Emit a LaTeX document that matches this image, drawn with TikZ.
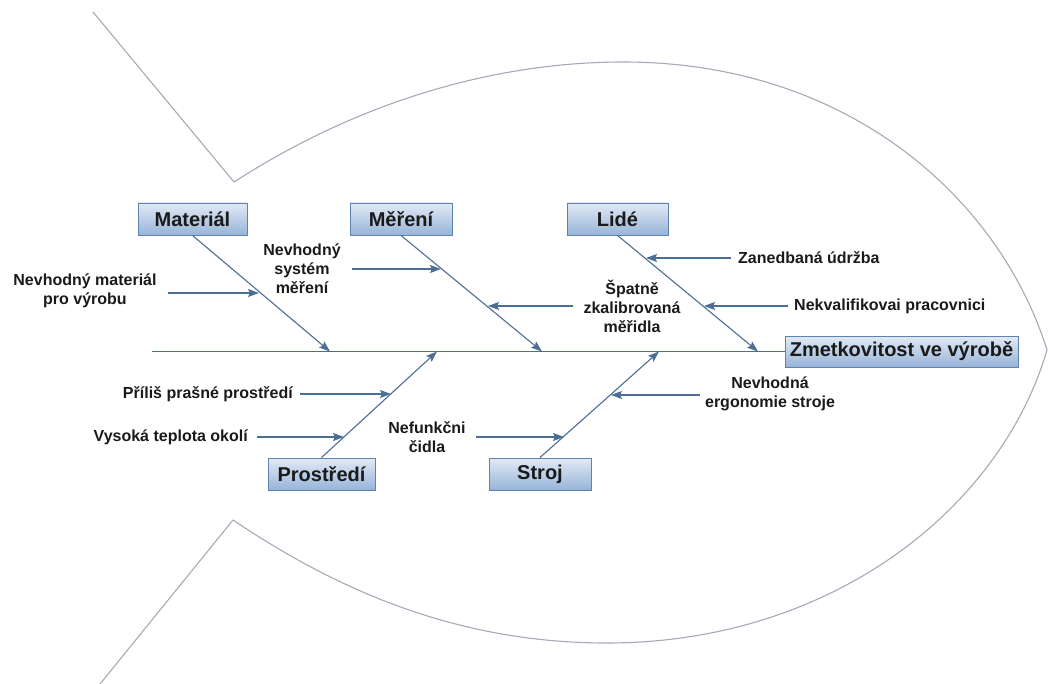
\documentclass[tikz,border=0pt]{standalone}
\usepackage{fontspec}
\setmainfont{Liberation Sans}
\usetikzlibrary{arrows.meta}
\definecolor{fishline}{HTML}{A3ABB6}
\definecolor{bone}{HTML}{4C6D96}
\definecolor{boxborder}{HTML}{5F82AE}
\definecolor{boxtop}{HTML}{E2EAF5}
\definecolor{boxbot}{HTML}{97B4D8}
\definecolor{txt}{HTML}{1A1A1A}
\tikzset{
  catbox/.style={draw=boxborder, line width=0.9pt, top color=boxtop, bottom color=boxbot,
    inner sep=0pt, minimum height=32pt, text=txt,
    font=\bfseries\fontsize{20}{22}\selectfont},
  causetext/.style={align=center, inner sep=0pt, text=txt,
    font=\bfseries\fontsize{16}{19}\selectfont},
  boneline/.style={draw=bone, line width=1.1pt, -{Stealth[length=11pt,width=8pt,inset=2pt]}},
  subarrow/.style={draw=bone, line width=1.1pt, -{Stealth[length=11pt,width=8pt,inset=2pt]}},
  spineline/.style={draw=bone, line width=1.1pt},
  outline/.style={draw=fishline, line width=1.1pt}
}
\begin{document}
\begin{tikzpicture}[x=1pt,y=-1pt]
\useasboundingbox (0,0) rectangle (1048,684);
% fish outline
\draw[outline] (93,12) -- (234,182)
  .. controls (380,88) and (520,62) .. (623,62)
  .. controls (850,62) and (1000,200) .. (1047,350)
  .. controls (1000,510) and (830,643) .. (607,643)
  .. controls (450,643) and (330,585) .. (233,520) -- (100,684);
% boxes
\node[catbox, minimum width=109pt] (mat) at (192.5,219) {Materiál};
\node[catbox, minimum width=102pt] (mer) at (401,219) {Měření};
\node[catbox, minimum width=101pt] (lid) at (617.5,219) {Lidé};
\node[catbox, minimum width=233pt, minimum height=31pt] (eff) at (901.5,351.5) {Zmetkovitost ve výrobě};
\node[catbox, minimum width=107pt] (pro) at (321.5,474) {Prostředí};
\node[catbox, minimum width=102pt] (str) at (540,474) {Stroj};
% spine
\coordinate (spL) at (152,351.5);
\draw[spineline] (spL) -- (eff.west);
% bone ends on spine
\coordinate (bm) at (330,351.5);
\coordinate (be) at (542,351.5);
\coordinate (bl) at (758,351.5);
\coordinate (bp) at (437,351.5);
\coordinate (bs) at (659,351.5);
\draw[boneline] (mat.south) -- (bm);
\draw[boneline] (mer.south) -- (be);
\draw[boneline] (lid.south) -- (bl);
\draw[boneline] (pro.north) -- (bp);
\draw[boneline] (str.north) -- (bs);
% cause texts
\node[causetext] (c1) at (85,291) {Nevhodný materiál\\pro výrobu};
\node[causetext] (c2) at (302,269) {Nevhodný\\systém\\měření};
\node[causetext] (c3) at (632,306) {Špatně\\zkalibrovaná\\měřidla};
\node[causetext, anchor=west] (c4) at (738,258) {Zanedbaná údržba};
\node[causetext, anchor=west] (c5) at (794,306) {Nekvalifikovai pracovnici};
\node[causetext] (c6) at (770,394) {Nevhodná\\ergonomie stroje};
\node[causetext] (c7) at (427,437) {Nefunkčni\\čidla};
\node[causetext, anchor=east] (c8) at (293,394) {Příliš prašné prostředí};
\node[causetext, anchor=east] (c9) at (248,437) {Vysoká teplota okolí};
% arrow tips on bones
\coordinate (t1) at (259,293);
\coordinate (t2) at (441,269);
\coordinate (t3) at (488,306);
\coordinate (t4) at (646,258);
\coordinate (t5) at (704,306);
\coordinate (t6) at (611,395);
\coordinate (t7) at (564,437);
\coordinate (t8) at (391,394);
\coordinate (t9) at (344,437);
% arrow start points
\coordinate (s1) at (168,293);
\coordinate (s2) at (352,269);
\coordinate (s3) at (573,306);
\coordinate (s4) at (731,258);
\coordinate (s5) at (788,306);
\coordinate (s6) at (700,395);
\coordinate (s7) at (476,437);
\coordinate (s8) at (300,394);
\coordinate (s9) at (257,437);
\foreach \i in {1,...,9} {\draw[subarrow] (s\i) -- (t\i);}
\end{tikzpicture}
\end{document}
